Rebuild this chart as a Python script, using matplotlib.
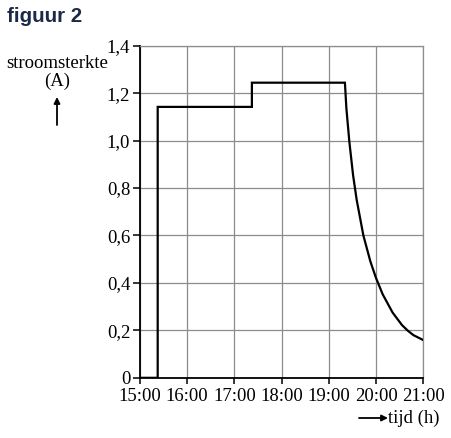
import matplotlib
matplotlib.use("Agg")
import matplotlib.pyplot as plt

# data (time in decimal hours, current in A)
t_vals = [15.0, 15.375, 15.375, 17.37, 17.37, 19.34,
          19.371, 19.434, 19.513, 19.59, 19.731, 19.88, 20.0,
          20.14, 20.35, 20.55, 20.67, 20.79, 21.0]
i_vals = [0.0, 0.0, 1.142, 1.142, 1.244, 1.244,
          1.136, 0.995, 0.854, 0.749, 0.600, 0.490, 0.420,
          0.352, 0.275, 0.222, 0.199, 0.180, 0.159]
x_ticks = [15, 16, 17, 18, 19, 20, 21]
x_labels = ["15:00", "16:00", "17:00", "18:00", "19:00", "20:00", "21:00"]
y_ticks = [0, 0.2, 0.4, 0.6, 0.8, 1.0, 1.2, 1.4]
y_labels = ["0", "0,2", "0,4", "0,6", "0,8", "1,0", "1,2", "1,4"]

serif = "Liberation Serif"
fs = 13.5
fig = plt.figure(figsize=(4.52, 4.38), dpi=100)
ax = fig.add_axes([0.3097, 0.1374, 0.9365 - 0.3097, 0.8957 - 0.1374])

ax.plot(t_vals, i_vals, color="black", lw=1.6, solid_joinstyle="miter", zorder=3)
ax.set_xlim(15, 21)
ax.set_ylim(0, 1.4)
ax.set_xticks(x_ticks)
ax.set_xticklabels(x_labels, fontfamily=serif, fontsize=fs)
ax.set_yticks(y_ticks)
ax.set_yticklabels(y_labels, fontfamily=serif, fontsize=fs)
ax.grid(True, color="#8c8c8c", lw=0.9)
ax.set_axisbelow(True)
for s in ["top", "right"]:
    ax.spines[s].set_color("#8c8c8c")
    ax.spines[s].set_linewidth(0.9)
for s in ["left", "bottom"]:
    ax.spines[s].set_color("black")
    ax.spines[s].set_linewidth(1.3)
ax.tick_params(axis="y", direction="out", length=5, width=1.1, pad=2, colors="black")
ax.tick_params(axis="x", direction="out", length=4, width=1.1, pad=3, colors="black")

fig.text(7 / 452, 1 - 17 / 438, "figuur 2", fontfamily="Liberation Sans",
         fontweight="bold", fontsize=14.8, color="#1b2a48", va="center", ha="left")
fig.text(57 / 452, 1 - 63 / 438, "stroomsterkte", fontfamily=serif, fontsize=fs,
         ha="center", va="center")
fig.text(57 / 452, 1 - 81 / 438, "(A)", fontfamily=serif, fontsize=fs,
         ha="center", va="center")
fig.add_artist(matplotlib.patches.FancyArrowPatch(
    (57 / 452, 1 - 125 / 438), (57 / 452, 1 - 97 / 438), transform=fig.transFigure,
    arrowstyle="-|>", mutation_scale=9, shrinkA=0, shrinkB=0,
    color="black", lw=1.3))
fig.text(440 / 452, 1 - 418 / 438, "tijd (h)", fontfamily=serif, fontsize=fs,
         ha="right", va="center")
fig.add_artist(matplotlib.patches.FancyArrowPatch(
    (359 / 452, 1 - 418 / 438), (388 / 452, 1 - 418 / 438), transform=fig.transFigure,
    arrowstyle="-|>", mutation_scale=9, shrinkA=0, shrinkB=0,
    color="black", lw=1.3))

fig.savefig("out.png", dpi=100)
